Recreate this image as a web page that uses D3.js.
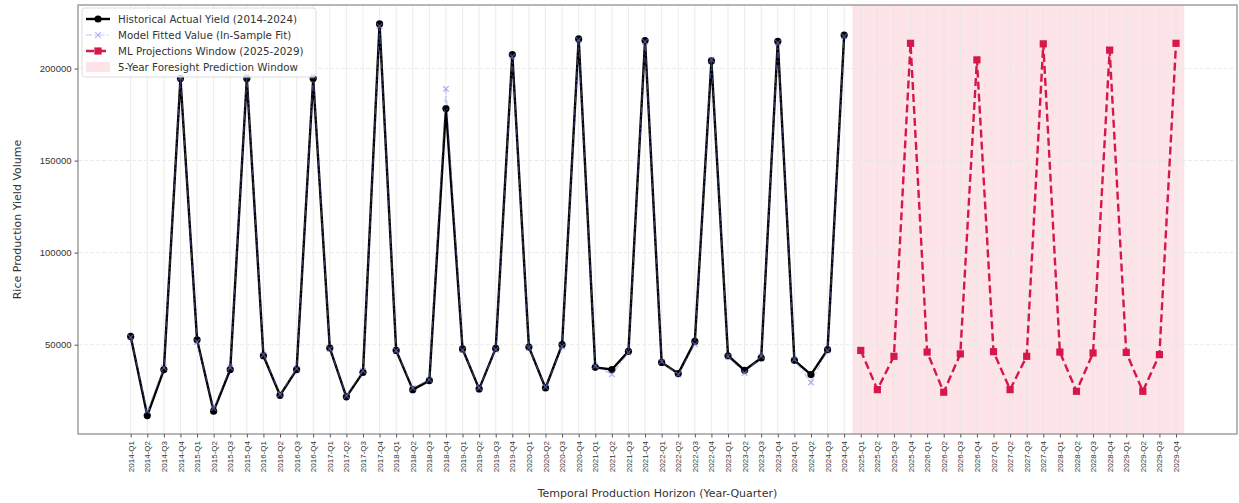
<!DOCTYPE html>
<html>
<head>
<meta charset="utf-8">
<script src="https://cdn.jsdelivr.net/npm/d3@7"></script>
<style>
  body { margin: 0; background: #fff; }
  svg { font-family: "DejaVu Sans", sans-serif; }
  .tick text { fill: #333; }
</style>
</head>
<body>
<div id="chart"></div>
<script>
const quarters = [
  '2014-Q1','2014-Q2','2014-Q3','2014-Q4','2015-Q1','2015-Q2','2015-Q3','2015-Q4',
  '2016-Q1','2016-Q2','2016-Q3','2016-Q4','2017-Q1','2017-Q2','2017-Q3','2017-Q4',
  '2018-Q1','2018-Q2','2018-Q3','2018-Q4','2019-Q1','2019-Q2','2019-Q3','2019-Q4',
  '2020-Q1','2020-Q2','2020-Q3','2020-Q4','2021-Q1','2021-Q2','2021-Q3','2021-Q4',
  '2022-Q1','2022-Q2','2022-Q3','2022-Q4','2023-Q1','2023-Q2','2023-Q3','2023-Q4',
  '2024-Q1','2024-Q2','2024-Q3','2024-Q4','2025-Q1','2025-Q2','2025-Q3','2025-Q4',
  '2026-Q1','2026-Q2','2026-Q3','2026-Q4','2027-Q1','2027-Q2','2027-Q3','2027-Q4',
  '2028-Q1','2028-Q2','2028-Q3','2028-Q4','2029-Q1','2029-Q2','2029-Q3','2029-Q4'
]

// 2014-Q1 .. 2024-Q4
const actualYield = [
  54500, 11500, 36500, 194600,
  52700, 13900, 36500, 194600,
  44000, 22500, 36500, 194600,
  48200, 21700, 35000, 224200,
  46900, 25600, 30500, 178300,
  47700, 26000, 48000, 207600,
  48700, 26500, 50000, 216100,
  37700, 36500, 46400, 215200,
  40400, 34300, 51800, 204100,
  44000, 36100, 42800, 214800,
  41500, 33750, 47300, 218200
]

const fittedYield = [
  54000, 14000, 37500, 195000,
  51500, 15500, 37500, 196000,
  44500, 23000, 37000, 196000,
  47800, 22300, 35800, 223000,
  46800, 26500, 31000, 189000,
  47200, 26500, 47300, 206500,
  48300, 27000, 49000, 215500,
  38300, 34000, 45800, 214500,
  40800, 33800, 50200, 204800,
  43600, 34500, 43800, 214000,
  42000, 29500, 46800, 217500
]

// 2025-Q1 .. 2029-Q4
const projectedYield = [
  46900, 25600, 43700, 213700,
  46000, 24200, 45000, 204700,
  46200, 25600, 43700, 213400,
  46000, 24700, 45500, 210000,
  45800, 24700, 44600, 213700
]

const yTicks = [50000, 100000, 150000, 200000]

const legendLabels = [
  'Historical Actual Yield (2014-2024)',
  'Model Fitted Value (In-Sample Fit)',
  'ML Projections Window (2025-2029)',
  '5-Year Foresight Prediction Window'
]

const dms = {
  width: 1239,
  height: 503,
  margin: { top: 5, right: 2, bottom: 69, left: 78 }
}
dms.contentWidth = dms.width - dms.margin.left - dms.margin.right
dms.contentHeight = dms.height - dms.margin.top - dms.margin.bottom

const nHist = actualYield.length
const histData = actualYield.map((v, i) => ({ i, v }))
const fitData = fittedYield.map((v, i) => ({ i, v }))
const projData = projectedYield.map((v, i) => ({ i: i + nHist, v }))

const svg = d3.select('#chart').append('svg')
  .attr('width', dms.width)
  .attr('height', dms.height)

const content = svg.append('g')
  .attr('transform', `translate(${dms.margin.left},${dms.margin.top})`)

const lastIdx = quarters.length - 1
const pad = (lastIdx + 0.5) * 0.05
const xScale = d3.scaleLinear()
  .domain([-pad, lastIdx + 0.5 + pad])
  .range([0, dms.contentWidth])

const yScale = d3.scaleLinear()
  .domain([1500, 234500])
  .range([dms.contentHeight, 0])

// prediction window shading
const spanFill = '#fce4e8'
content.append('rect')
  .attr('x', xScale(nHist - 0.5))
  .attr('y', 0)
  .attr('width', xScale(lastIdx + 0.5) - xScale(nHist - 0.5))
  .attr('height', dms.contentHeight)
  .attr('fill', spanFill)

// grid
content.append('g')
  .selectAll('line')
  .data(d3.range(quarters.length))
  .join('line')
  .attr('x1', d => xScale(d)).attr('x2', d => xScale(d))
  .attr('y1', 0).attr('y2', dms.contentHeight)
  .attr('stroke', '#e6e6e6')
  .attr('stroke-width', 0.8)

content.append('g')
  .selectAll('line')
  .data(yTicks)
  .join('line')
  .attr('x1', 0).attr('x2', dms.contentWidth)
  .attr('y1', d => yScale(d)).attr('y2', d => yScale(d))
  .attr('stroke', '#e6e6e6')
  .attr('stroke-dasharray', '4,2')
  .attr('stroke-width', 0.8)

const lineGen = d3.line()
  .x(d => xScale(d.i))
  .y(d => yScale(d.v))

// historical
content.append('path')
  .attr('d', lineGen(histData))
  .attr('fill', 'none')
  .attr('stroke', '#000')
  .attr('stroke-width', 2.4)
  .attr('stroke-linejoin', 'round')

content.append('g')
  .selectAll('circle')
  .data(histData)
  .join('circle')
  .attr('cx', d => xScale(d.i))
  .attr('cy', d => yScale(d.v))
  .attr('r', 3.6)
  .attr('fill', '#000')

// fitted
const fitColor = '#7480e6'
content.append('path')
  .attr('d', lineGen(fitData))
  .attr('fill', 'none')
  .attr('stroke', fitColor)
  .attr('stroke-opacity', 0.45)
  .attr('stroke-width', 1.2)
  .attr('stroke-dasharray', '6,2.5,1.5,2.5')

const xMark = (g, s) => g.append('path')
  .attr('d', `M${-s},${-s}L${s},${s}M${-s},${s}L${s},${-s}`)
  .attr('stroke', fitColor)
  .attr('stroke-opacity', 0.6)
  .attr('stroke-width', 1.2)

content.append('g')
  .selectAll('g')
  .data(fitData)
  .join('g')
  .attr('transform', d => `translate(${xScale(d.i)},${yScale(d.v)})`)
  .each(function () { xMark(d3.select(this), 2.8) })

// projections
const projColor = '#d6174a'
content.append('path')
  .attr('d', lineGen(projData))
  .attr('fill', 'none')
  .attr('stroke', projColor)
  .attr('stroke-width', 2.4)
  .attr('stroke-dasharray', '8,4')

content.append('g')
  .selectAll('rect')
  .data(projData)
  .join('rect')
  .attr('x', d => xScale(d.i) - 3.6)
  .attr('y', d => yScale(d.v) - 3.6)
  .attr('width', 7.2)
  .attr('height', 7.2)
  .attr('fill', projColor)

// frame
content.append('rect')
  .attr('width', dms.contentWidth)
  .attr('height', dms.contentHeight)
  .attr('fill', 'none')
  .attr('stroke', '#999')
  .attr('stroke-width', 1.4)

// axes
const xAxis = content.append('g')
  .attr('transform', `translate(0,${dms.contentHeight})`)
  .call(d3.axisBottom(xScale)
    .tickValues(d3.range(quarters.length))
    .tickFormat(i => quarters[i])
    .tickSize(3.5))
xAxis.select('.domain').remove()
xAxis.selectAll('.tick line').attr('stroke', '#555')
xAxis.selectAll('.tick text')
  .attr('font-size', 8)
  .attr('text-anchor', 'end')
  .attr('transform', 'rotate(-90)')
  .attr('x', -7)
  .attr('y', 0)
  .attr('dy', '0.32em')

const yAxis = content.append('g')
  .call(d3.axisLeft(yScale)
    .tickValues(yTicks)
    .tickFormat(d3.format('d'))
    .tickSize(3.5))
yAxis.select('.domain').remove()
yAxis.selectAll('.tick line').attr('stroke', '#555')
yAxis.selectAll('.tick text').attr('font-size', 9.5)

svg.append('text')
  .attr('x', dms.margin.left + dms.contentWidth / 2)
  .attr('y', 497)
  .attr('text-anchor', 'middle')
  .attr('font-size', 11)
  .attr('fill', '#333')
  .text('Temporal Production Horizon (Year-Quarter)')

svg.append('text')
  .attr('transform', `translate(21,${dms.margin.top + dms.contentHeight / 2}) rotate(-90)`)
  .attr('text-anchor', 'middle')
  .attr('font-size', 11)
  .attr('fill', '#333')
  .text('Rice Production Yield Volume')

// legend
const legend = svg.append('g')
  .attr('transform', 'translate(82,8)')

legend.append('rect')
  .attr('width', 234)
  .attr('height', 69)
  .attr('rx', 3)
  .attr('fill', '#fff')
  .attr('fill-opacity', 0.8)
  .attr('stroke', '#ddd')

const rowY = i => 11 + i * 16

legendLabels.forEach((label, i) => {
  const row = legend.append('g').attr('transform', `translate(4,${rowY(i)})`)
  if (i === 0) {
    row.append('line').attr('x1', 0).attr('x2', 24).attr('stroke', '#000').attr('stroke-width', 2.4)
    row.append('circle').attr('cx', 12).attr('r', 3.6).attr('fill', '#000')
  } else if (i === 1) {
    row.append('line').attr('x1', 0).attr('x2', 24).attr('stroke', fitColor)
      .attr('stroke-opacity', 0.45).attr('stroke-width', 1.2).attr('stroke-dasharray', '6,2.5,1.5,2.5')
    xMark(row.append('g').attr('transform', 'translate(12,0)'), 2.8)
  } else if (i === 2) {
    row.append('line').attr('x1', 0).attr('x2', 24).attr('stroke', projColor)
      .attr('stroke-width', 2.4).attr('stroke-dasharray', '8,4')
    row.append('rect').attr('x', 8.4).attr('y', -3.6).attr('width', 7.2).attr('height', 7.2).attr('fill', projColor)
  } else {
    row.append('rect').attr('x', 0).attr('y', -5).attr('width', 24).attr('height', 10)
      .attr('fill', spanFill)
  }
  row.append('text')
    .attr('x', 32)
    .attr('dy', '0.35em')
    .attr('font-size', 10.3)
    .attr('fill', '#333')
    .text(label)
})
</script>
</body>
</html>
